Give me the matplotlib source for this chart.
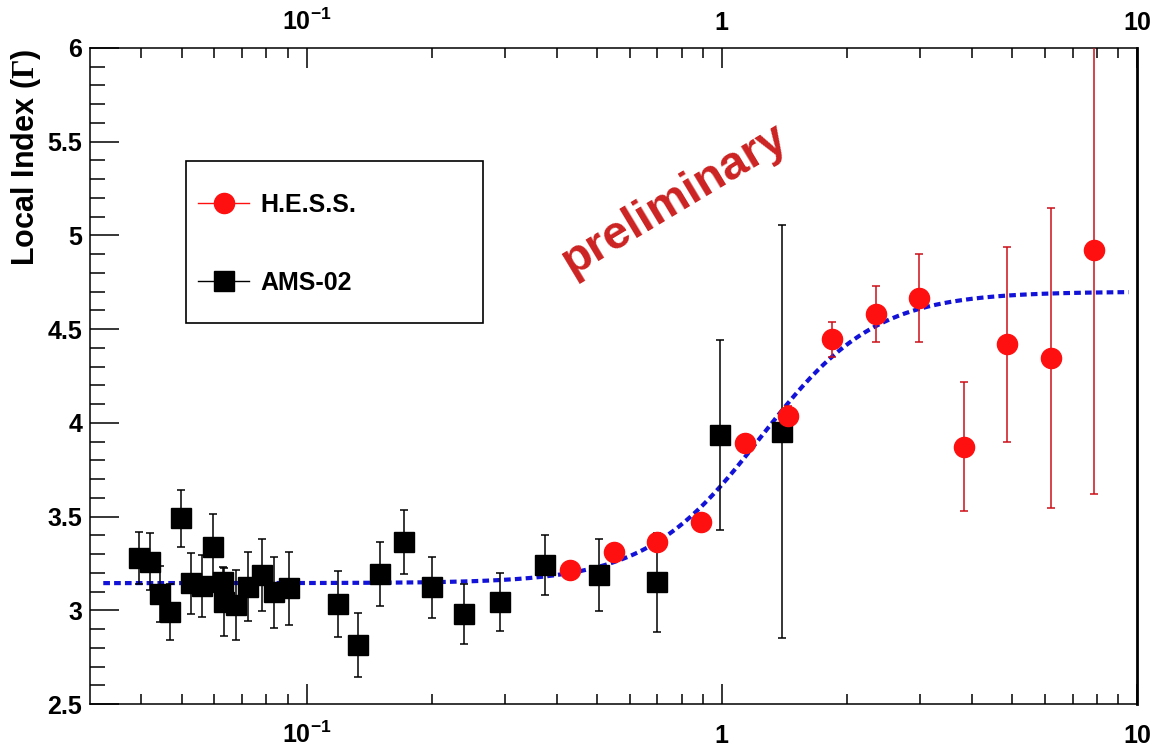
import numpy as np
import matplotlib
matplotlib.use("Agg")
import matplotlib.pyplot as plt
from matplotlib.ticker import FixedLocator, FuncFormatter, MultipleLocator, NullFormatter
from matplotlib.lines import Line2D
from matplotlib.patches import Rectangle

plt.rcParams["font.family"] = ["Liberation Sans", "DejaVu Sans"]
plt.rcParams["font.weight"] = "bold"
plt.rcParams["mathtext.fontset"] = "custom"
plt.rcParams["mathtext.rm"] = "Liberation Serif"
plt.rcParams["mathtext.bf"] = "Liberation Sans:bold"
plt.rcParams["mathtext.it"] = "Liberation Sans:bold:italic"

# H.E.S.S. local spectral index (energy in TeV)
hess_energy = [0.431, 0.551, 0.700, 0.893, 1.138, 1.446, 1.838, 2.346, 2.992, 3.823, 4.861, 6.212, 7.897]
hess_index = [3.215, 3.312, 3.366, 3.472, 3.894, 4.038, 4.445, 4.581, 4.664, 3.873, 4.420, 4.344, 4.922]
hess_err = [0.02, 0.02, 0.03, 0.03, 0.04, 0.05, 0.095, 0.147, 0.235, 0.345, 0.52, 0.80, 1.30]

# AMS-02 local spectral index (energy in TeV)
ams_energy = [0.0396, 0.0420, 0.0444, 0.0469, 0.0498, 0.0526, 0.0560, 0.0594, 0.0630, 0.0634,
              0.0676, 0.0724, 0.0781, 0.0834, 0.0908, 0.119, 0.133, 0.150, 0.172, 0.200,
              0.239, 0.293, 0.376, 0.505, 0.700, 0.991, 1.398]
ams_index = [3.280, 3.260, 3.085, 2.990, 3.490, 3.143, 3.129, 3.336, 3.152, 3.045,
             3.028, 3.126, 3.188, 3.096, 3.117, 3.033, 2.813, 3.193, 3.366, 3.122,
             2.978, 3.045, 3.241, 3.188, 3.149, 3.935, 3.953]
ams_err = [0.14, 0.15, 0.15, 0.15, 0.15, 0.165, 0.165, 0.177, 0.08, 0.18,
           0.185, 0.185, 0.19, 0.19, 0.195, 0.177, 0.17, 0.17, 0.17, 0.163,
           0.16, 0.155, 0.16, 0.19, 0.263, 0.505, 1.10]

# Smoothly broken power-law fit: index below/above the break, break energy, sharpness
fit_gamma1 = 3.145
fit_gamma2 = 4.70
fit_ebreak = 1.24
fit_alpha = 0.318
fit_range = (0.0324, 9.55)

x_ticks = [0.1, 1, 10]
x_ticklabels = [r"$\mathbf{10^{-1}}$", r"$\mathbf{1}$", r"$\mathbf{10}$"]


def x_label(v, pos):
    for t, lab in zip(x_ticks, x_ticklabels):
        if np.isclose(v, t):
            return lab
    return ""


W, H, DPI = 1157, 747, 100
fig = plt.figure(figsize=(W / DPI, H / DPI), dpi=DPI)
ax = fig.add_axes([90 / W, 1 - 704 / H, (1137 - 90) / W, (704 - 48) / H])

ax.set_xscale("log")
ax.set_xlim(0.0301, 10.0)
ax.set_ylim(2.5, 6.0)

# fit curve (local index of a smoothly broken power law)
e = np.logspace(np.log10(fit_range[0]), np.log10(fit_range[1]), 400)
r = (e / fit_ebreak) ** (1.0 / fit_alpha)
gamma = fit_gamma1 + (fit_gamma2 - fit_gamma1) * r / (1.0 + r)
ax.plot(e, gamma, color="#1212d8", lw=3.0, linestyle=(0, (1.6, 1.0)),
        dash_capstyle="butt", zorder=2)

ax.errorbar(ams_energy, ams_index, yerr=ams_err, fmt="s", color="black",
            markersize=14.5, ecolor="black", elinewidth=1.1, capsize=2.6,
            capthick=1.1, zorder=3)
ax.errorbar(hess_energy, hess_index, yerr=hess_err, fmt="o", color="#ff1010",
            markersize=14.5, ecolor="#cc1018", elinewidth=1.1, capsize=2.6,
            capthick=1.1, zorder=4)

# axis ticks
ax.xaxis.set_major_locator(FixedLocator(x_ticks))
ax.xaxis.set_major_formatter(FuncFormatter(x_label))
ax.xaxis.set_minor_formatter(NullFormatter())
ax.yaxis.set_major_locator(MultipleLocator(0.5))
ax.yaxis.set_minor_locator(MultipleLocator(0.1))
ax.yaxis.set_major_formatter(FuncFormatter(lambda v, p: "%g" % v))

ax.tick_params(axis="x", which="both", direction="in", top=True, bottom=True,
               labeltop=False, labelbottom=True, labelsize=18, width=1.1, pad=28)
ax.tick_params(axis="x", which="major", length=14.4)
ax.tick_params(axis="x", which="minor", length=7.2)
ax.tick_params(axis="y", which="both", direction="in", left=True, right=False,
               labelsize=18, width=1.1, pad=5.5)
ax.tick_params(axis="y", which="major", length=20.9)
ax.tick_params(axis="y", which="minor", length=10.8)
for t in ax.xaxis.get_major_ticks():
    t.label1.set_verticalalignment("baseline")

# labels along the top edge
sec = ax.secondary_xaxis("top")
sec.xaxis.set_major_locator(FixedLocator(x_ticks))
sec.xaxis.set_major_formatter(FuncFormatter(x_label))
sec.xaxis.set_minor_formatter(NullFormatter())
sec.tick_params(axis="x", which="both", length=0, labelsize=18, pad=9)
sec.spines["top"].set_visible(False)

for s in ax.spines.values():
    s.set_linewidth(1.1)
ax.spines["right"].set_linewidth(2.0)

ax.set_ylabel(r"$\mathbf{Local\ Index\ (}\mathrm{\Gamma}\mathbf{)}$", fontsize=22, loc="top")
ax.yaxis.set_label_coords(-0.045, 1.0)

# legend
ax.add_patch(Rectangle((0.0914, 0.5803), 0.2842, 0.2474, transform=ax.transAxes,
                       facecolor="white", edgecolor="black", lw=1.2, zorder=5))
handles = [
    Line2D([], [], color="#ff1010", marker="o", markersize=14.5, lw=1.0),
    Line2D([], [], color="black", marker="s", markersize=14.5, lw=1.0),
]
leg = ax.legend(handles, ["H.E.S.S.", "AMS-02"], loc="center left",
                bbox_to_anchor=(0.1032, 0.7017), frameon=False, fontsize=18,
                borderpad=0.0, borderaxespad=0.0, labelspacing=2.15,
                handlelength=2.04, handletextpad=0.44)
leg.set_zorder(6)

fig.text(675 / W, 1 - 200 / H, "preliminary", color="#cc2222", fontsize=34,
         fontweight="bold", rotation=31, ha="center", va="center",
         rotation_mode="anchor")

fig.savefig("out.png", dpi=DPI)
